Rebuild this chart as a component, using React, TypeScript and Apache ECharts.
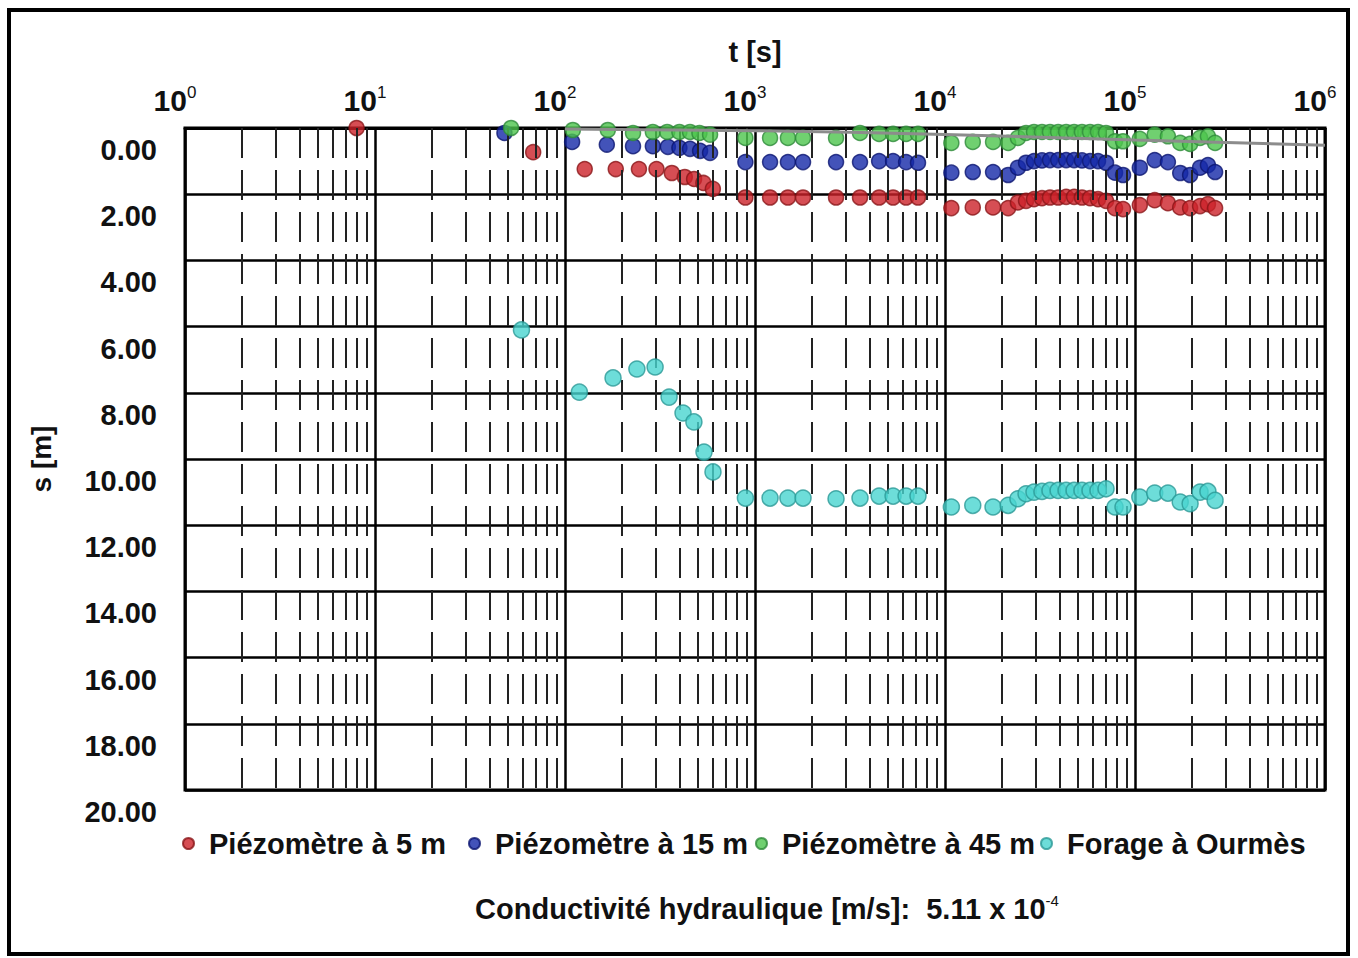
import React, { useEffect, useRef } from "react";
import * as echarts from "echarts";

// ---- data (t in s, s in m) ----
const seriesNames = ["Piézomètre à 5 m", "Piézomètre à 15 m", "Piézomètre à 45 m", "Forage à Ourmès"];

const earlyRedT = [8, 68, 127, 185, 245, 303, 365, 427, 478, 535, 600];
const earlyRedS = [0, 0.73, 1.24, 1.24, 1.24, 1.24, 1.36, 1.48, 1.54, 1.66, 1.84];
const earlyBlueT = [48, 109, 166, 228, 290, 348, 400, 455, 514, 580];
const earlyBlueS = [0.15, 0.42, 0.5, 0.55, 0.55, 0.57, 0.6, 0.63, 0.69, 0.75];
const earlyGreenT = [52, 110, 168, 228, 290, 345, 400, 455, 510, 580];
const earlyGreenS = [0, 0.06, 0.06, 0.15, 0.12, 0.12, 0.12, 0.12, 0.15, 0.2];
const earlyForageT = [59, 119, 179, 239, 298, 353, 418, 477, 539, 601];
const earlyForageS = [6.1, 7.98, 7.55, 7.28, 7.22, 8.13, 8.61, 8.88, 9.79, 10.39];

const lateT = [890, 1200, 1490, 1790, 2670, 3570, 4500, 5330, 6240, 7210,
  10800, 14000, 17900, 21500,
  24200, 26700, 29400, 32400, 35700, 39400, 43400, 47800, 52600, 58000, 63900, 70400,
  78500, 86500,
  106000, 127000, 149000, 173000, 195000, 220000, 242000, 264000];
const lateRedS = [2.1, 2.1, 2.1, 2.1, 2.1, 2.1, 2.1, 2.1, 2.1, 2.1,
  2.42, 2.4, 2.4, 2.42,
  2.25, 2.2, 2.15, 2.12, 2.1, 2.1, 2.08, 2.08, 2.1, 2.12, 2.15, 2.2,
  2.42, 2.45,
  2.33, 2.18, 2.27, 2.4, 2.42, 2.36, 2.3, 2.42];
const lateBlueS = [1.03, 1.03, 1.03, 1.03, 1.03, 1.03, 1.0, 1.0, 1.03, 1.05,
  1.35, 1.33, 1.33, 1.42,
  1.2, 1.05, 1.0, 0.98, 0.97, 0.97, 0.97, 0.97, 0.98, 1.0, 1.0, 1.05,
  1.35, 1.42,
  1.2, 0.97, 1.03, 1.36, 1.42, 1.2, 1.12, 1.33];
const lateGreenS = [0.3, 0.3, 0.3, 0.3, 0.3, 0.15, 0.18, 0.18, 0.18, 0.18,
  0.45, 0.42, 0.42, 0.45,
  0.3, 0.15, 0.12, 0.12, 0.12, 0.12, 0.12, 0.12, 0.12, 0.12, 0.12, 0.15,
  0.4, 0.4,
  0.33, 0.2, 0.25, 0.45, 0.48, 0.3, 0.25, 0.45];
const lateForageS = [11.18, 11.18, 11.18, 11.18, 11.2, 11.18, 11.12, 11.12, 11.12, 11.12,
  11.45, 11.4, 11.45, 11.4,
  11.2, 11.05, 11.0, 10.98, 10.95, 10.95, 10.95, 10.95, 10.95, 10.95, 10.95, 10.9,
  11.45, 11.45,
  11.15, 11.03, 11.03, 11.3, 11.35, 11.0, 10.98, 11.25];

// fitted (theoretical) curve
const fitT = [100, 1000, 10000, 100000, 1000000];
const fitS = [0.03, 0.08, 0.2, 0.36, 0.52];

// axis
const yTicks = [0, 2, 4, 6, 8, 10, 12, 14, 16, 18, 20];
const decades = [1, 10, 100, 1000, 10000, 100000];
const minorMultipliers = [2, 3, 4, 5, 6, 7, 8, 9];

const colors = ["#cc2229", "#1428a8", "#4cc44c", "#48d4d0"];
const borders = ["#8a1518", "#0b1570", "#2e8a3a", "#2a9896"];
const legendLefts = [177, 463, 750, 1035];

const FONT = '"Liberation Sans", Arial, sans-serif';

const pairs = (t: number[], s: number[]) => t.map((v, i) => [v, s[i]]);

export default function App() {
  const ref = useRef<HTMLDivElement>(null);
  useEffect(() => {
    if (!ref.current) return;
    const chart = echarts.init(ref.current, undefined, { renderer: "svg" });

    const dataSets = [
      pairs(earlyRedT.concat(lateT), earlyRedS.concat(lateRedS)),
      pairs(earlyBlueT.concat(lateT), earlyBlueS.concat(lateBlueS)),
      pairs(earlyGreenT.concat(lateT), earlyGreenS.concat(lateGreenS)),
      pairs(earlyForageT.concat(lateT), earlyForageS.concat(lateForageS)),
    ];

    const minorLines: any[] = [];
    decades.forEach((d) => minorMultipliers.forEach((m) => minorLines.push({ xAxis: d * m })));

    const scatterSeries = seriesNames.map((name, i) => ({
      name,
      type: "scatter",
      data: dataSets[i],
      symbol: "circle",
      symbolSize: i === 3 ? 16 : 15,
      itemStyle: { color: colors[i], borderColor: borders[i], borderWidth: 1.5 },
      z: 3 + i,
    }));

    const legends = seriesNames.map((name, i) => ({
      data: [name],
      left: legendLefts[i],
      top: 824,
      icon: "circle",
      itemWidth: 11,
      itemHeight: 13,
      textStyle: {
        fontFamily: FONT,
        fontWeight: "bold",
        fontSize: 29,
        color: "#111",
        padding: [0, 0, 0, 10],
      },
    }));

    const option: any = {
      animation: false,
      backgroundColor: "#ffffff",
      grid: {
        left: 185,
        right: 33,
        top: 128,
        bottom: 168,
        show: true,
        borderColor: "#000",
        borderWidth: 3,
        backgroundColor: "transparent",
      },
      xAxis: {
        type: "log",
        logBase: 10,
        min: 1,
        max: 1000000,
        position: "top",
        name: "t [s]",
        nameLocation: "middle",
        nameGap: 62,
        nameTextStyle: { fontFamily: FONT, fontWeight: "bold", fontSize: 29, color: "#111", verticalAlign: "bottom" },
        axisLine: { show: true, lineStyle: { color: "#000", width: 3 } },
        axisTick: { show: false },
        axisLabel: {
          margin: 12,
          padding: [0, 20, 0, 0],
          formatter: (v: number) => `{b|10}{e|${Math.round(Math.log10(v))}}`,
          rich: {
            b: { fontFamily: FONT, fontWeight: "bold", fontSize: 30, color: "#111", lineHeight: 32 },
            e: { fontFamily: FONT, fontSize: 17, color: "#111", verticalAlign: "top", lineHeight: 17 },
          },
        },
        splitLine: { show: true, lineStyle: { color: "#000", width: 2.5 } },
      },
      yAxis: {
        type: "value",
        inverse: true,
        min: 0,
        max: 20,
        interval: 2,
        name: "s [m]",
        nameLocation: "middle",
        nameGap: 130,
        nameRotate: 90,
        nameTextStyle: { fontFamily: FONT, fontWeight: "bold", fontSize: 28, color: "#111" },
        axisLine: { show: false },
        axisTick: { show: false },
        axisLabel: {
          margin: 28,
          fontFamily: FONT,
          fontWeight: "bold",
          fontSize: 29,
          color: "#111",
          verticalAlign: "top",
          lineHeight: 30,
          padding: [7, 0, 0, 0],
          formatter: (v: number) => (yTicks.includes(v) ? v.toFixed(2) : ""),
        },
        splitLine: { show: true, lineStyle: { color: "#000", width: 2.5 } },
      },
      legend: legends,
      graphic: [
        {
          type: "rect",
          shape: { x: 9, y: 10, width: 1339, height: 944 },
          style: { fill: "none", stroke: "#000", lineWidth: 4 },
          silent: true,
        },
        {
          type: "text",
          x: 767,
          y: 909,
          style: {
            text: "{a|Conductivité hydraulique [m/s]:  5.11 x 10}{e|-4}",
            align: "center",
            verticalAlign: "middle",
            rich: {
              a: { fontFamily: FONT, fontWeight: "bold", fontSize: 29, fill: "#111", lineHeight: 32 },
              e: { fontFamily: FONT, fontSize: 15, fill: "#111", verticalAlign: "top", lineHeight: 15 },
            },
          },
          silent: true,
        },
      ],
      series: [
        {
          name: "minor",
          type: "line",
          data: [],
          silent: true,
          z: 1,
          markLine: {
            silent: true,
            symbol: ["none", "none"],
            label: { show: false },
            emphasis: { disabled: true },
            lineStyle: { color: "#222", width: 2, type: [30, 12] },
            data: minorLines,
          },
        },
        ...scatterSeries,
        {
          name: "fit",
          type: "line",
          data: pairs(fitT, fitS),
          showSymbol: false,
          symbol: "none",
          smooth: true,
          lineStyle: { color: "#8c8c8c", width: 3 },
          z: 10,
          silent: true,
        },
      ],
    };
    chart.setOption(option);
    return () => chart.dispose();
  }, []);
  return (
    <div
      ref={ref}
      style={{ position: "absolute", left: 0, top: 0, width: 1358, height: 958 }}
    />
  );
}
